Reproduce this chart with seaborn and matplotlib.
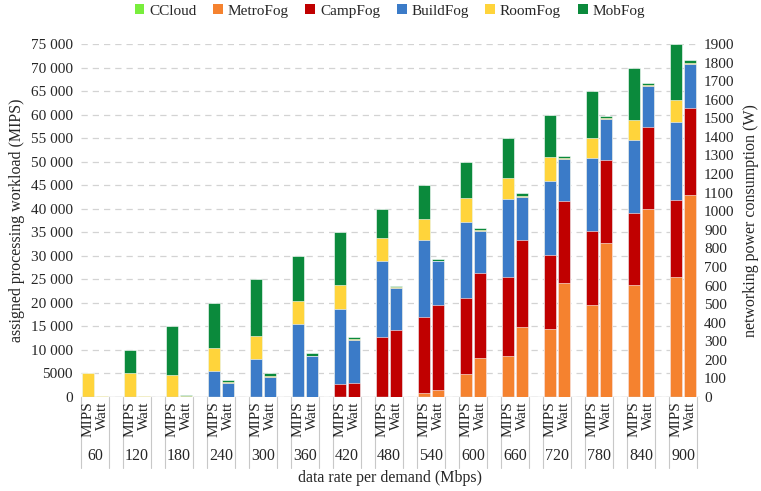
import matplotlib
matplotlib.use('Agg')
import matplotlib.pyplot as plt
import matplotlib.transforms as mtransforms
from matplotlib.patches import Patch
import pandas as pd
import seaborn as sns

sns.set_theme(style='white')
plt.rcParams['font.family'] = ['Liberation Serif', 'DejaVu Serif']

# data rate groups (Mbps)
rates = [60, 120, 180, 240, 300, 360, 420, 480, 540, 600, 660, 720, 780, 840, 900]
series = ['CCloud', 'MetroFog', 'CampFog', 'BuildFog', 'RoomFog', 'MobFog']
colors = ['#78EE3C', '#F5822F', '#C00000', '#3B7BC8', '#FFD43B', '#0B8A3C']

# assigned processing workload (MIPS), bottom to top
mips_ccloud = [0] * 15
mips_metro = [0, 0, 0, 0, 0, 0, 0, 0, 900, 4900, 8800, 14500, 19500, 23900, 25600]
mips_camp = [0, 0, 0, 0, 0, 0, 2700, 12700, 16200, 16100, 16700, 15700, 15700, 15200, 16300]
mips_build = [0, 0, 0, 5500, 8000, 15600, 16100, 16300, 16200, 16100, 16500, 15700, 15600, 15400, 16600]
mips_room = [5000, 5000, 4700, 4850, 5000, 4800, 5000, 4700, 4600, 5100, 4500, 5000, 4200, 4300, 4500]
mips_mob = [0, 5000, 10300, 9650, 12000, 9600, 11200, 6300, 7100, 7800, 8500, 9100, 10000, 11200, 12000]

# networking power consumption (W), bottom to top
watt_ccloud = [0] * 15
watt_metro = [0, 0, 0, 0, 0, 0, 0, 0, 40, 210, 376, 616, 831, 1011, 1088]
watt_camp = [0, 0, 0, 0, 0, 0, 75, 362, 457, 457, 470, 441, 445, 441, 470]
watt_build = [0, 0, 0, 76, 110, 218, 232, 224, 233, 227, 233, 223, 219, 222, 236]
watt_room = [4, 4, 4, 4, 5, 5, 4, 4, 3, 4, 4, 4, 5, 4, 5]
watt_mob = [0, 3, 9, 13, 14, 14, 12, 10, 10, 11, 14, 14, 13, 14, 15]

mips = [mips_ccloud, mips_metro, mips_camp, mips_build, mips_room, mips_mob]
watt = [watt_ccloud, watt_metro, watt_camp, watt_build, watt_room, watt_mob]

# each group has 3 slots: MIPS, Watt, empty
pos_mips = [3 * g + 0.5 for g in range(len(rates))]
pos_watt = [3 * g + 1.5 for g in range(len(rates))]


def stacked(ax, pos, values):
    # draw cumulative totals, tallest first, so the layers look stacked
    cum = []
    run = [0] * len(pos)
    for v in values:
        run = [a + b for a, b in zip(run, v)]
        cum.append(run)
    for i in reversed(range(len(values))):
        df = pd.DataFrame({'pos': pos, 'val': cum[i]})
        sns.barplot(data=df, x='pos', y='val', native_scale=True, color=colors[i],
                    width=0.86 / 3, errorbar=None, saturation=1, ax=ax,
                    edgecolor='white', linewidth=0.4)


fig = plt.figure(figsize=(7.61, 4.91), dpi=100)
ax = fig.add_axes([81 / 761, 1 - 397 / 491, 619 / 761, 353 / 491])
ax.set_axisbelow(True)
stacked(ax, pos_mips, mips)
ax2 = ax.twinx()
stacked(ax2, pos_watt, watt)

ax.set_xlim(0, 44.2)
ax2.set_xlim(0, 44.2)
ax.set_ylim(0, 75000)
ax2.set_ylim(0, 1900)

lt = list(range(0, 75001, 5000))
ax.set_yticks(lt)
ax.set_yticklabels([str(v) if v < 10000 else f'{v:,}'.replace(',', ' ') for v in lt])
rt = list(range(0, 1901, 100))
ax2.set_yticks(rt)
ax2.set_yticklabels([str(v) for v in rt])

ax.yaxis.grid(True, linestyle=(0, (5, 4)), color='#d3d3d3', linewidth=0.9)
ax.xaxis.grid(False)
ax2.grid(False)
ax.set_xticks([])
ax2.set_xticks([])
ax.tick_params(axis='y', length=0, labelsize=11, pad=6)
ax2.tick_params(axis='y', length=0, labelsize=11, pad=3)
for a in (ax, ax2):
    for s in a.spines.values():
        s.set_visible(False)
    a.set_xlabel('')
    for lbl in a.get_yticklabels():
        lbl.set_fontfamily(['Liberation Serif', 'DejaVu Serif'])
ax.set_ylabel('assigned processing workload (MIPS)', fontsize=11.5, labelpad=4)
ax2.set_ylabel('networking power consumption (W)', fontsize=11.5, labelpad=6)
ax.axhline(0, color='#c8c8c8', linewidth=1, zorder=5)

# multi-level category axis below the plot
trans = mtransforms.blended_transform_factory(ax.transData, ax.transAxes)
for g, r in enumerate(rates):
    ax.text(pos_mips[g], -0.012, 'MIPS', rotation=90, ha='center', va='top',
            fontsize=11, transform=trans)
    ax.text(pos_watt[g], -0.012, 'Watt', rotation=90, ha='center', va='top',
            fontsize=11, transform=trans)
    ax.text(3 * g + 1, -0.167, str(r), ha='center', va='center',
            fontsize=11.5, transform=trans)
    for xl in (3 * g, 3 * g + 2):
        ax.plot([xl, xl], [0, -0.2], color='#c8c8c8', linewidth=0.8,
                transform=trans, clip_on=False)

fig.text((81 + 619 / 2) / 761, 1 - 478 / 491, 'data rate per demand (Mbps)',
         ha='center', va='center', fontsize=11.5)

handles = [Patch(facecolor=c, edgecolor='none') for c in colors]
fig.legend(handles, series, loc='center', bbox_to_anchor=(0.512, 0.978), ncol=6,
           frameon=False, fontsize=11, handlelength=0.65, handleheight=0.65,
           handletextpad=0.3, columnspacing=1.1, borderaxespad=0)

fig.savefig('out.png', dpi=100)
